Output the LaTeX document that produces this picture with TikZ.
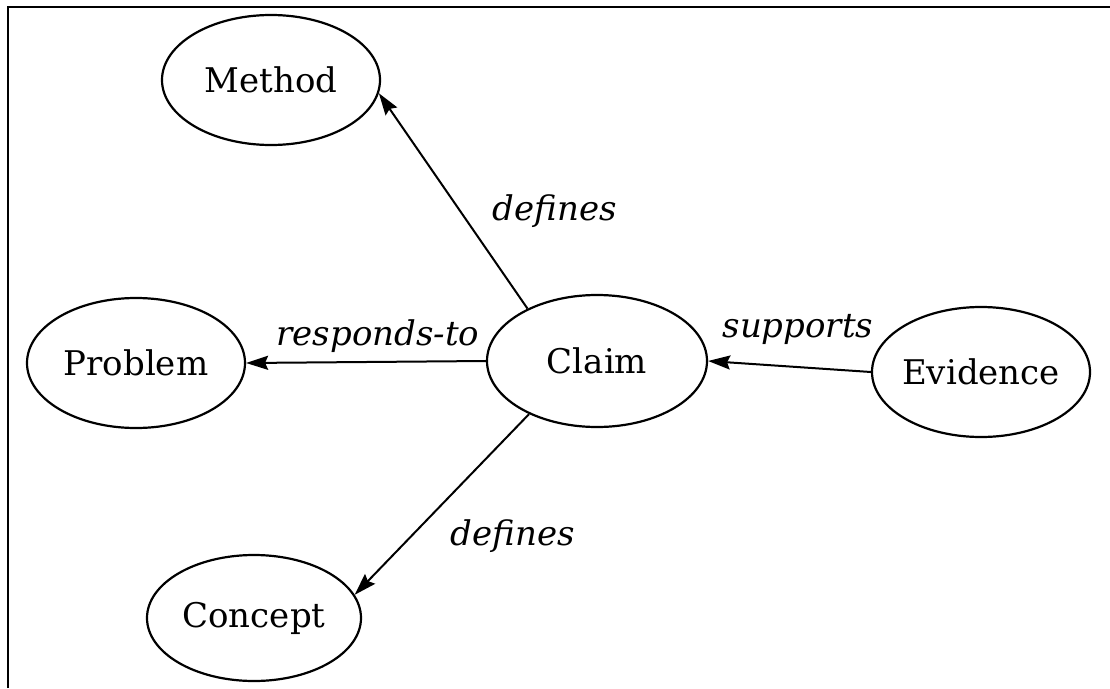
\documentclass[tikz,border=0pt]{standalone}
\usepackage{fontspec}
\setmainfont{DejaVu Serif}
\usetikzlibrary{shapes.geometric,arrows.meta}
\tikzset{
  concept/.style={ellipse, draw, line width=2.2pt, inner sep=0pt,
    minimum width=218pt, minimum height=130pt,
    font=\fontsize{34}{40}\selectfont},
  rel/.style={line width=2pt, -{Stealth[length=22pt,width=14pt,inset=3pt]}},
  lbl/.style={anchor=base, inner sep=0pt, font=\fontsize{34}{40}\selectfont\itshape},
  frame/.style={line width=2.6pt}
}
\newcommand{\ctext}[1]{\makebox[0pt]{#1}}
\begin{document}
\begin{tikzpicture}[x=1pt,y=-1pt]
\useasboundingbox (0,0) rectangle (1110,688);
\coordinate (bl) at (8,688);
\coordinate (tl) at (8,7);
\coordinate (tr) at (1110,7);
\draw[frame] (bl) -- (tl) -- (tr);

\node[concept] (method) at (271,80) {\ctext{Method}};
\node[concept, minimum width=218pt] (problem) at (136,363) {\ctext{Problem}};
\node[concept, minimum width=220pt, minimum height=132pt] (claim) at (597,361) {\ctext{Claim}};
\node[concept] (evidence) at (981,372) {\ctext{Evidence}};
\node[concept, minimum width=214pt, minimum height=126pt] (concept) at (254,618) {\ctext{Concept}};

\draw[rel] (claim.143) -- (method.-7);
\draw[rel] (claim.west) -- (problem.east);
\draw[rel] (evidence.west) -- (claim.east);
\draw[rel] (claim.218) -- (concept.13);

\node[lbl] (l1) at (555,220) {defines};
\node[lbl] (l2) at (378,345) {responds-to};
\node[lbl] (l3) at (798,337) {supports};
\node[lbl] (l4) at (513,545) {defines};
\end{tikzpicture}
\end{document}
